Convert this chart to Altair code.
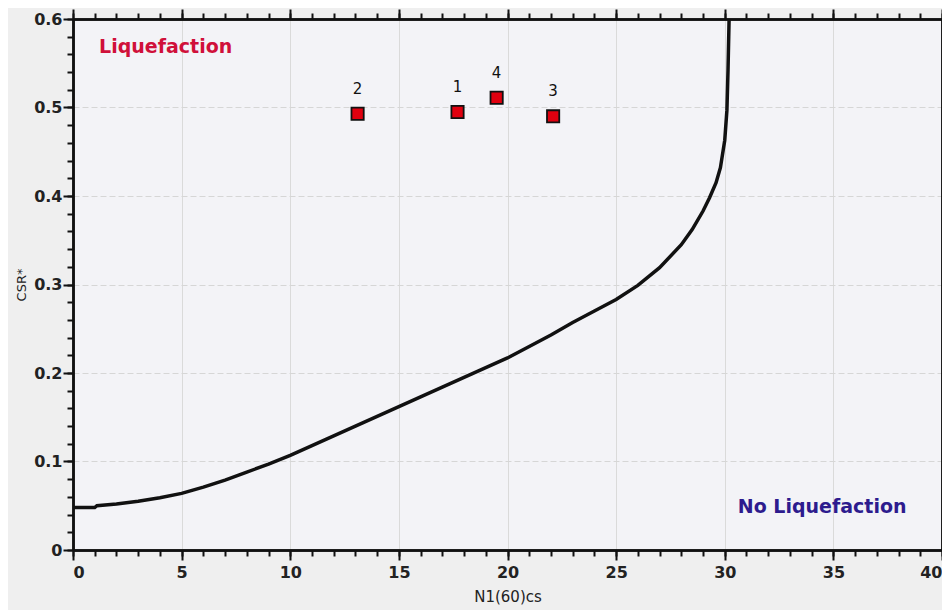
import altair as alt
import pandas as pd

# Boundary curve
curve_n = [0, 1, 1.1, 2, 3, 4, 5, 6, 7, 8, 9, 10, 11, 12, 13, 14, 15, 16, 17, 18, 19, 20,
           21, 22, 23, 24, 25, 26, 27, 28, 28.5, 29, 29.3, 29.6, 29.8, 30.0, 30.1, 30.15, 30.2]
curve_csr = [0.048, 0.048, 0.050, 0.052, 0.055, 0.059, 0.064, 0.071, 0.079, 0.088, 0.097, 0.107,
             0.118, 0.129, 0.140, 0.151, 0.162, 0.173, 0.184, 0.195, 0.206, 0.217,
             0.230, 0.243, 0.257, 0.270, 0.283, 0.299, 0.319, 0.345, 0.362, 0.383, 0.398,
             0.415, 0.432, 0.463, 0.497, 0.542, 0.600]

# Test points
pt_label = ["1", "2", "3", "4"]
pt_n = [17.7, 13.1, 22.1, 19.5]
pt_csr = [0.495, 0.493, 0.490, 0.511]

# Region labels
region_text = ["Liquefaction", "No Liquefaction"]
region_n = [1.2, 30.6]
region_csr = [0.568, 0.049]
region_color = ["#d0103a", "#2d1b8e"]

major_x = [0, 5, 10, 15, 20, 25, 30, 35, 40]
minor_x = list(range(0, 41))
major_y = [0, 0.1, 0.2, 0.3, 0.4, 0.5, 0.6]
minor_y = [round(i * 0.02, 2) for i in range(31)]

curve = pd.DataFrame({"n": curve_n, "csr": curve_csr})
pts = pd.DataFrame({"label": pt_label, "n": pt_n, "csr": pt_csr})
regions = pd.DataFrame({"text": region_text, "n": region_n, "csr": region_csr, "color": region_color})

xs = alt.Scale(domain=[0, 40], nice=False, zero=False)
ys = alt.Scale(domain=[0, 0.6], nice=False, zero=False)
FONT = "DejaVu Sans"

def xaxis(orient, values, size, labels, grid=False, title=None):
    kw = dict(orient=orient, values=values, tickSize=size, tickWidth=2, tickColor="#111",
              labels=labels, grid=grid, domain=True, domainColor="#111", domainWidth=2.5,
              labelFont=FONT, labelFontSize=16, labelFontWeight="bold", labelColor="#222",
              labelPadding=4, gridColor="#dadada", gridWidth=1)
    if title:
        kw.update(title=title, titleFont=FONT, titleFontSize=15, titleFontWeight="normal",
                  titleColor="#222", titlePadding=9)
    else:
        kw.update(title=None)
    return alt.Axis(**kw)

def yaxis(orient, values, size, labels, grid=False, title=None):
    kw = dict(orient=orient, values=values, tickSize=size, tickWidth=2, tickColor="#111",
              labels=labels, grid=grid, domain=True, domainColor="#111", domainWidth=2.5,
              labelFont=FONT, labelFontSize=16, labelFontWeight="bold", labelColor="#222",
              labelPadding=1, gridColor="#d6d6d6", gridWidth=1, gridDash=[6, 3], format="~g")
    if title:
        kw.update(title=title, titleFont=FONT, titleFontSize=13, titleFontWeight="normal",
                  titleColor="#222", titlePadding=5)
    else:
        kw.update(title=None)
    return alt.Axis(**kw)

base = alt.Chart(curve)

line = base.mark_line(color="#111", strokeWidth=3.5, clip=True).encode(
    x=alt.X("n:Q", scale=xs, axis=xaxis("bottom", major_x, 10, True, grid=True, title="N1(60)cs")),
    y=alt.Y("csr:Q", scale=ys, axis=yaxis("left", major_y, 10, True, grid=True, title="CSR*")),
)

def dummy(xax, yax):
    return base.mark_line(opacity=0).encode(
        x=alt.X("n:Q", scale=xs, axis=xax),
        y=alt.Y("csr:Q", scale=ys, axis=yax),
    )

d1 = dummy(xaxis("bottom", minor_x, 6, False), None)
d2 = dummy(xaxis("top", major_x, 10, False), None)
d3 = dummy(xaxis("top", minor_x, 6, False), None)
d4 = dummy(None, yaxis("left", minor_y, 6, False))
d5 = dummy(None, yaxis("right", major_y, 10, False))
d6 = dummy(None, yaxis("right", minor_y, 6, False))

points = alt.Chart(pts).mark_square(size=150, color="#e0000f", stroke="#111", strokeWidth=1.8, opacity=1).encode(
    x=alt.X("n:Q", scale=xs, axis=None),
    y=alt.Y("csr:Q", scale=ys, axis=None),
)
pt_text = alt.Chart(pts).mark_text(dy=-25, font=FONT, fontSize=15, color="#111").encode(
    x=alt.X("n:Q", scale=xs, axis=None),
    y=alt.Y("csr:Q", scale=ys, axis=None),
    text="label:N",
)
reg_text = alt.Chart(regions).mark_text(align="left", baseline="middle", font=FONT, fontSize=19,
                                        fontWeight="bold").encode(
    x=alt.X("n:Q", scale=xs, axis=None),
    y=alt.Y("csr:Q", scale=ys, axis=None),
    text="text:N",
    color=alt.Color("color:N", scale=None),
)

chart = alt.layer(line, d1, d2, d3, d4, d5, d6, points, pt_text, reg_text).resolve_axis(
    x="independent", y="independent"
).properties(
    width=869, height=531,
    background="#efefef",
    padding={"left": 65, "top": 11, "right": 0, "bottom": 60},
    autosize=alt.AutoSizeParams(type="none"),
).configure_view(fill="#f3f3f7", stroke=None)

chart.save("out.html", embed_options={"renderer": "svg", "actions": False})
